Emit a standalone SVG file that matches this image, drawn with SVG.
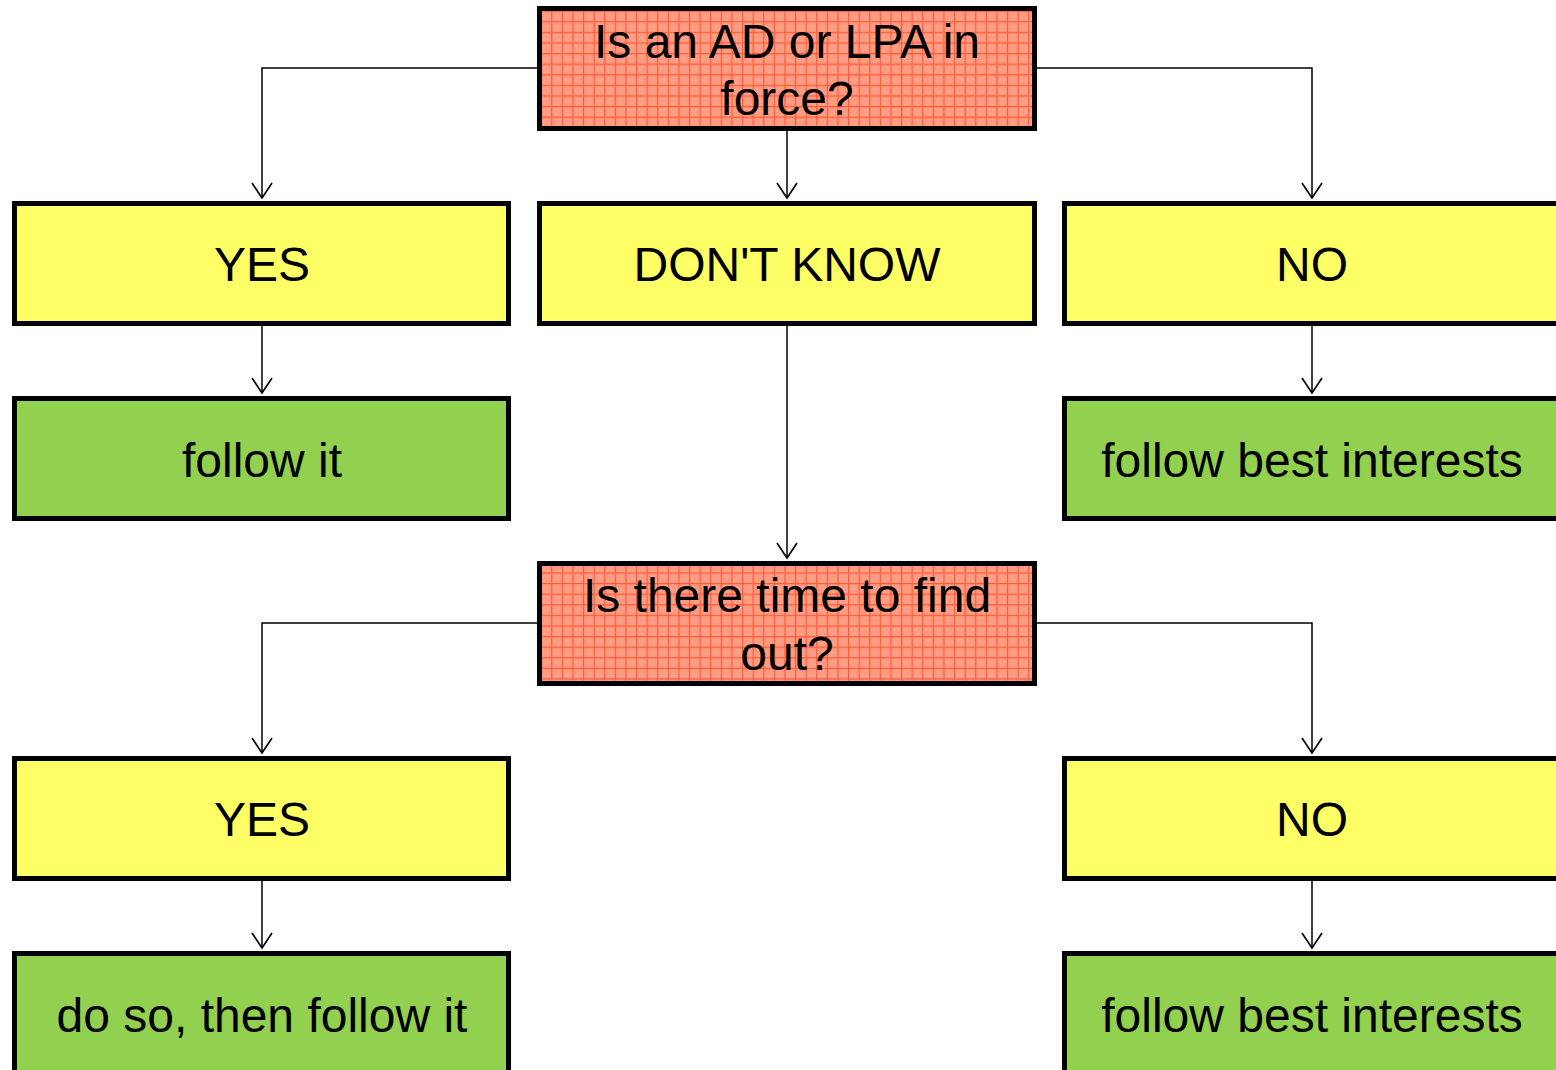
<svg xmlns="http://www.w3.org/2000/svg" width="1556" height="1070" viewBox="0 0 1556 1070">
<defs>
<pattern id="grid" width="10.6" height="10.6" patternUnits="userSpaceOnUse">
<rect width="10.6" height="10.6" fill="#FF9C84"/>
<path d="M0 0.6H10.6M0.6 0V10.6" stroke="#FF5A36" stroke-width="1.2"/>
</pattern>
<marker id="arr" markerWidth="24" markerHeight="24" refX="16" refY="11" orient="auto" markerUnits="userSpaceOnUse" viewBox="0 0 24 24">
<path d="M1 1L16 11L1 21" fill="none" stroke="#000" stroke-width="1.6"/>
</marker>
</defs>
<style>
.q{fill:url(#grid);stroke:#000;stroke-width:5}
.y{fill:#FFFF66;stroke:#000;stroke-width:5}
.g{fill:#92D050;stroke:#000;stroke-width:5}
text{font-family:"Liberation Sans",Arial,sans-serif;font-size:48px;fill:#000;text-anchor:middle}
.c{fill:none;stroke:#000;stroke-width:1.5}
</style>
<rect width="1556" height="1070" fill="#fff"/>
<g id="connectors">
<path class="c" d="M539 68H262V198" marker-end="url(#arr)"/>
<path class="c" d="M787 131V198" marker-end="url(#arr)"/>
<path class="c" d="M1035 68H1312V198" marker-end="url(#arr)"/>
<path class="c" d="M262 326V393" marker-end="url(#arr)"/>
<path class="c" d="M1312 326V393" marker-end="url(#arr)"/>
<path class="c" d="M787 326V558" marker-end="url(#arr)"/>
<path class="c" d="M539 623H262V753" marker-end="url(#arr)"/>
<path class="c" d="M1035 623H1312V753" marker-end="url(#arr)"/>
<path class="c" d="M262 881V948" marker-end="url(#arr)"/>
<path class="c" d="M1312 881V948" marker-end="url(#arr)"/>
</g>
<g id="q1"><rect class="q" x="539.5" y="8.5" width="495" height="120"/><text x="787" y="58">Is an AD or LPA in</text><text x="787" y="115">force?</text></g>
<g id="yes1"><rect class="y" x="14.5" y="203.5" width="494" height="120"/><text x="262" y="281">YES</text></g>
<g id="dk"><rect class="y" x="539.5" y="203.5" width="495" height="120"/><text x="787" y="281">DON'T KNOW</text></g>
<g id="no1"><rect class="y" x="1064.5" y="203.5" width="500" height="120"/><text x="1312" y="281">NO</text></g>
<g id="follow1"><rect class="g" x="14.5" y="398.5" width="494" height="120"/><text x="262" y="477">follow it</text></g>
<g id="best1"><rect class="g" x="1064.5" y="398.5" width="500" height="120"/><text x="1312" y="477">follow best interests</text></g>
<g id="q2"><rect class="q" x="539.5" y="563.5" width="495" height="120"/><text x="787" y="612">Is there time to find</text><text x="787" y="670">out?</text></g>
<g id="yes2"><rect class="y" x="14.5" y="758.5" width="494" height="120"/><text x="262" y="836">YES</text></g>
<g id="no2"><rect class="y" x="1064.5" y="758.5" width="500" height="120"/><text x="1312" y="836">NO</text></g>
<g id="doso"><rect class="g" x="14.5" y="953.5" width="494" height="130"/><text x="262" y="1032">do so, then follow it</text></g>
<g id="best2"><rect class="g" x="1064.5" y="953.5" width="500" height="130"/><text x="1312" y="1032">follow best interests</text></g>
</svg>
